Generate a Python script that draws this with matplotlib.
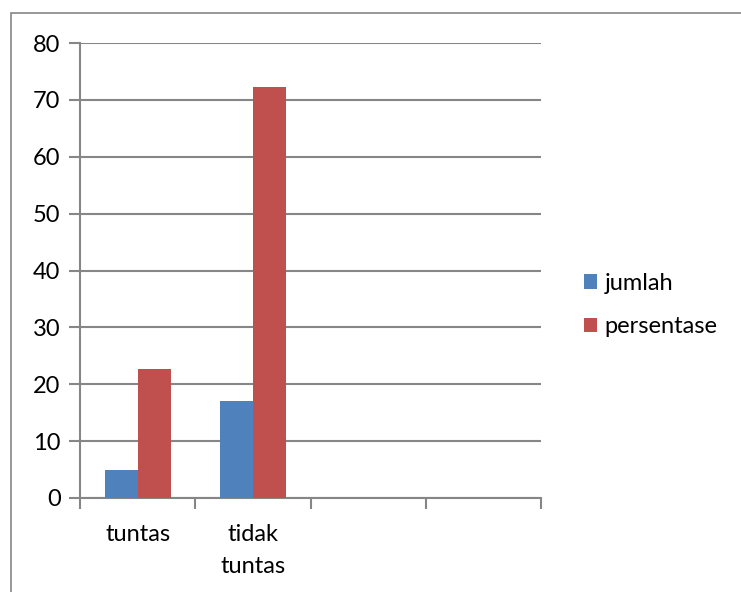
import matplotlib
matplotlib.use("Agg")
import matplotlib.pyplot as plt
from matplotlib.patches import Rectangle
import numpy as np

categories = ["tuntas", "tidak\ntuntas", "", ""]
jumlah = [5, 17, None, None]
persentase = [22.7, 72.3, None, None]
series_names = ["jumlah", "persentase"]
colors = ["#4F81BD", "#C0504D"]
yticks = [0, 10, 20, 30, 40, 50, 60, 70, 80]

plt.rcParams['font.family'] = ['Lato', 'DejaVu Sans']

W, H = 741, 592
fig = plt.figure(figsize=(W/100, H/100), dpi=100)

# outer chart border (extends beyond the image on the right and bottom)
fig.patches.append(Rectangle((11/W, -0.1), 1.2, 1.1 - 13/H, transform=fig.transFigure,
                             fill=False, edgecolor="#868686", linewidth=1.2))

ax = fig.add_axes([80/W, 1 - 498/H, (541-80)/W, (498-43)/H])
n = len(categories)
x = np.arange(n)
bw = 1/3.5
for i, (name, vals) in enumerate(zip(series_names, [jumlah, persentase])):
    xs = [xi for xi, v in zip(x, vals) if v is not None]
    vs = [v for v in vals if v is not None]
    ax.bar(np.array(xs) + (i - 0.5) * bw, vs, width=bw, color=colors[i],
           label=name, zorder=3)

ax.set_xlim(-0.5, n - 0.5)
ax.set_ylim(0, 80)
ax.set_yticks(yticks)
ax.set_yticklabels([str(t) for t in yticks], fontsize=17)
ax.yaxis.grid(True, color="#868686", linewidth=1.5, zorder=0)
ax.set_axisbelow(True)
ax.tick_params(axis='y', length=8, width=1.5, color="#868686", pad=6)

# category boundaries as ticks
ax.set_xticks(np.arange(-0.5, n, 1.0))
ax.set_xticklabels([])
ax.set_xticks(x, minor=True)
ax.set_xticklabels(categories, minor=True, fontsize=17, linespacing=1.6, va='top')
ax.tick_params(axis='x', which='major', length=8, width=1.5, color="#868686", direction='out')
ax.tick_params(axis='x', which='minor', length=0, pad=19)

for s in ['top', 'right']:
    ax.spines[s].set_visible(False)
for s in ['left', 'bottom']:
    ax.spines[s].set_color("#868686")
    ax.spines[s].set_linewidth(1.5)

handles, labels = ax.get_legend_handles_labels()
fig.legend(handles, labels, loc='center left', bbox_to_anchor=(563/W, 1 - 305/H),
           frameon=False, fontsize=17, handlelength=0.55, handleheight=0.55,
           handletextpad=0.3, labelspacing=0.95)

fig.savefig("out.png", dpi=100)
